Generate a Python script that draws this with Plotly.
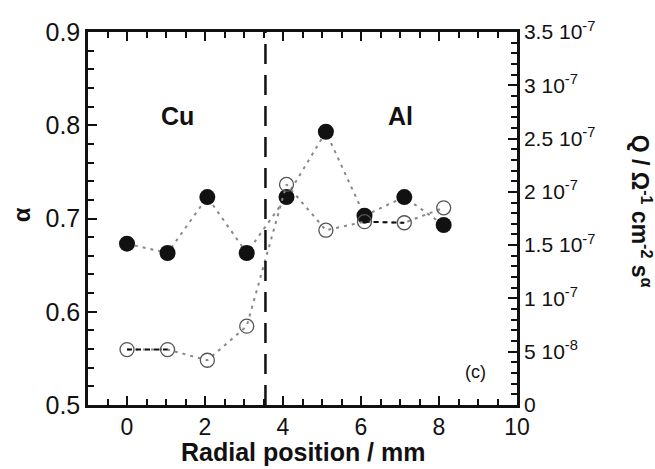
import plotly.graph_objects as go

# ---- data ----
radial_pos = [0, 1.04, 2.06, 3.07, 4.09, 5.10, 6.09, 7.11, 8.12]
alpha_vals = [0.673, 0.663, 0.723, 0.663, 0.723, 0.793, 0.703, 0.723, 0.693]
q_vals = [5.2e-8, 5.2e-8, 4.2e-8, 7.4e-8, 2.07e-7, 1.64e-7, 1.72e-7, 1.71e-7, 1.85e-7]
dashed_pairs = [(0, 1), (6, 7)]  # Q segments drawn in black dashed
boundary_x = 3.55

x_ticks = [0, 2, 4, 6, 8, 10]
y_ticks = [0.5, 0.6, 0.7, 0.8, 0.9]
q_ticks = [0, 5e-8, 1e-7, 1.5e-7, 2e-7, 2.5e-7, 3e-7, 3.5e-7]
q_ticktext = ["0", "5 10<sup>-8</sup>", "1 10<sup>-7</sup>", "1.5 10<sup>-7</sup>",
              "2 10<sup>-7</sup>", "2.5 10<sup>-7</sup>", "3 10<sup>-7</sup>", "3.5 10<sup>-7</sup>"]

FONT = "Liberation Sans, Arial, sans-serif"

fig = go.Figure()

# Q series (open circles) on right axis
fig.add_trace(go.Scatter(
    x=radial_pos, y=q_vals, yaxis="y2", mode="lines+markers",
    line=dict(color="#888888", width=2, dash="3px,5px"),
    marker=dict(symbol="circle-open", size=14, color="#555555", line=dict(width=1.3, color="#555555")),
    showlegend=False))
for a, b in dashed_pairs:
    fig.add_trace(go.Scatter(
        x=[radial_pos[a], radial_pos[b]], y=[q_vals[a], q_vals[b]], yaxis="y2", mode="lines",
        line=dict(color="#111111", width=2, dash="5px,4px"), showlegend=False))

# alpha series (filled circles) on left axis
fig.add_trace(go.Scatter(
    x=radial_pos, y=alpha_vals, mode="lines+markers",
    line=dict(color="#888888", width=2, dash="3px,5px"),
    marker=dict(symbol="circle", size=16, color="#111111"),
    showlegend=False))

fig.add_shape(type="line", x0=boundary_x, x1=boundary_x, y0=0, y1=1, xref="x", yref="paper",
              line=dict(color="#111111", width=2.5, dash="20px,11px"))

fig.add_annotation(x=1.3, y=0.81, text="<b>Cu</b>", showarrow=False, font=dict(size=25, family=FONT, color="#111"))
fig.add_annotation(x=7.0, y=0.81, text="<b>Al</b>", showarrow=False, font=dict(size=25, family=FONT, color="#111"))
fig.add_annotation(x=8.93, y=0.535, text="(c)", showarrow=False, font=dict(size=18, family=FONT, color="#111"))

# axis titles
fig.add_annotation(xref="paper", yref="paper", x=0.5, y=-0.126, xanchor="center", yanchor="middle",
                   text="<b>Radial position / mm</b>", showarrow=False,
                   font=dict(size=25, family=FONT, color="#111"))
fig.add_annotation(xref="paper", yref="paper", x=-0.155, y=0.51, xanchor="center", yanchor="middle",
                   text="<b>α</b>", textangle=-90, showarrow=False, font=dict(size=24, family=FONT, color="#111"))
fig.add_annotation(xref="paper", yref="paper", x=1.29, y=0.52, xanchor="center", yanchor="middle",
                   text="<b>Q / Ω<sup>-1</sup> cm<sup>-2</sup> s<sup>α</sup></b>", textangle=90,
                   showarrow=False, font=dict(size=23, family=FONT, color="#111"))

fig.update_layout(
    width=655, height=469,
    margin=dict(l=88, r=138, t=32, b=64, autoexpand=False),
    paper_bgcolor="white", plot_bgcolor="white",
    font=dict(family=FONT, color="#111111"),
    xaxis=dict(
        range=[-1, 10], tickvals=x_ticks, ticks="inside", ticklen=9, tickwidth=2, tickcolor="#111",
        showline=True, linecolor="#111", linewidth=2.5, mirror="ticks", showgrid=False, zeroline=False,
        tickfont=dict(size=23, family=FONT),
        minor=dict(dtick=0.5, ticks="inside", ticklen=6, tickwidth=2, tickcolor="#111"),
    ),
    yaxis=dict(
        range=[0.5, 0.9], tickvals=y_ticks, ticks="inside", ticklen=9, tickwidth=2, tickcolor="#111",
        showline=True, linecolor="#111", linewidth=2.5, showgrid=False, zeroline=False,
        tickfont=dict(size=25, family=FONT),
        minor=dict(dtick=0.02, ticks="inside", ticklen=6, tickwidth=2, tickcolor="#111"),
    ),
    yaxis2=dict(
        range=[0, 3.5e-7], overlaying="y", side="right", tickvals=q_ticks, ticktext=q_ticktext,
        ticks="inside", ticklen=9, tickwidth=2, tickcolor="#111",
        showline=True, linecolor="#111", linewidth=2.5, showgrid=False, zeroline=False,
        tickfont=dict(size=21, family=FONT),
        minor=dict(dtick=1e-8, ticks="inside", ticklen=6, tickwidth=2, tickcolor="#111"),
    ),
)

fig.write_html("out.html")
